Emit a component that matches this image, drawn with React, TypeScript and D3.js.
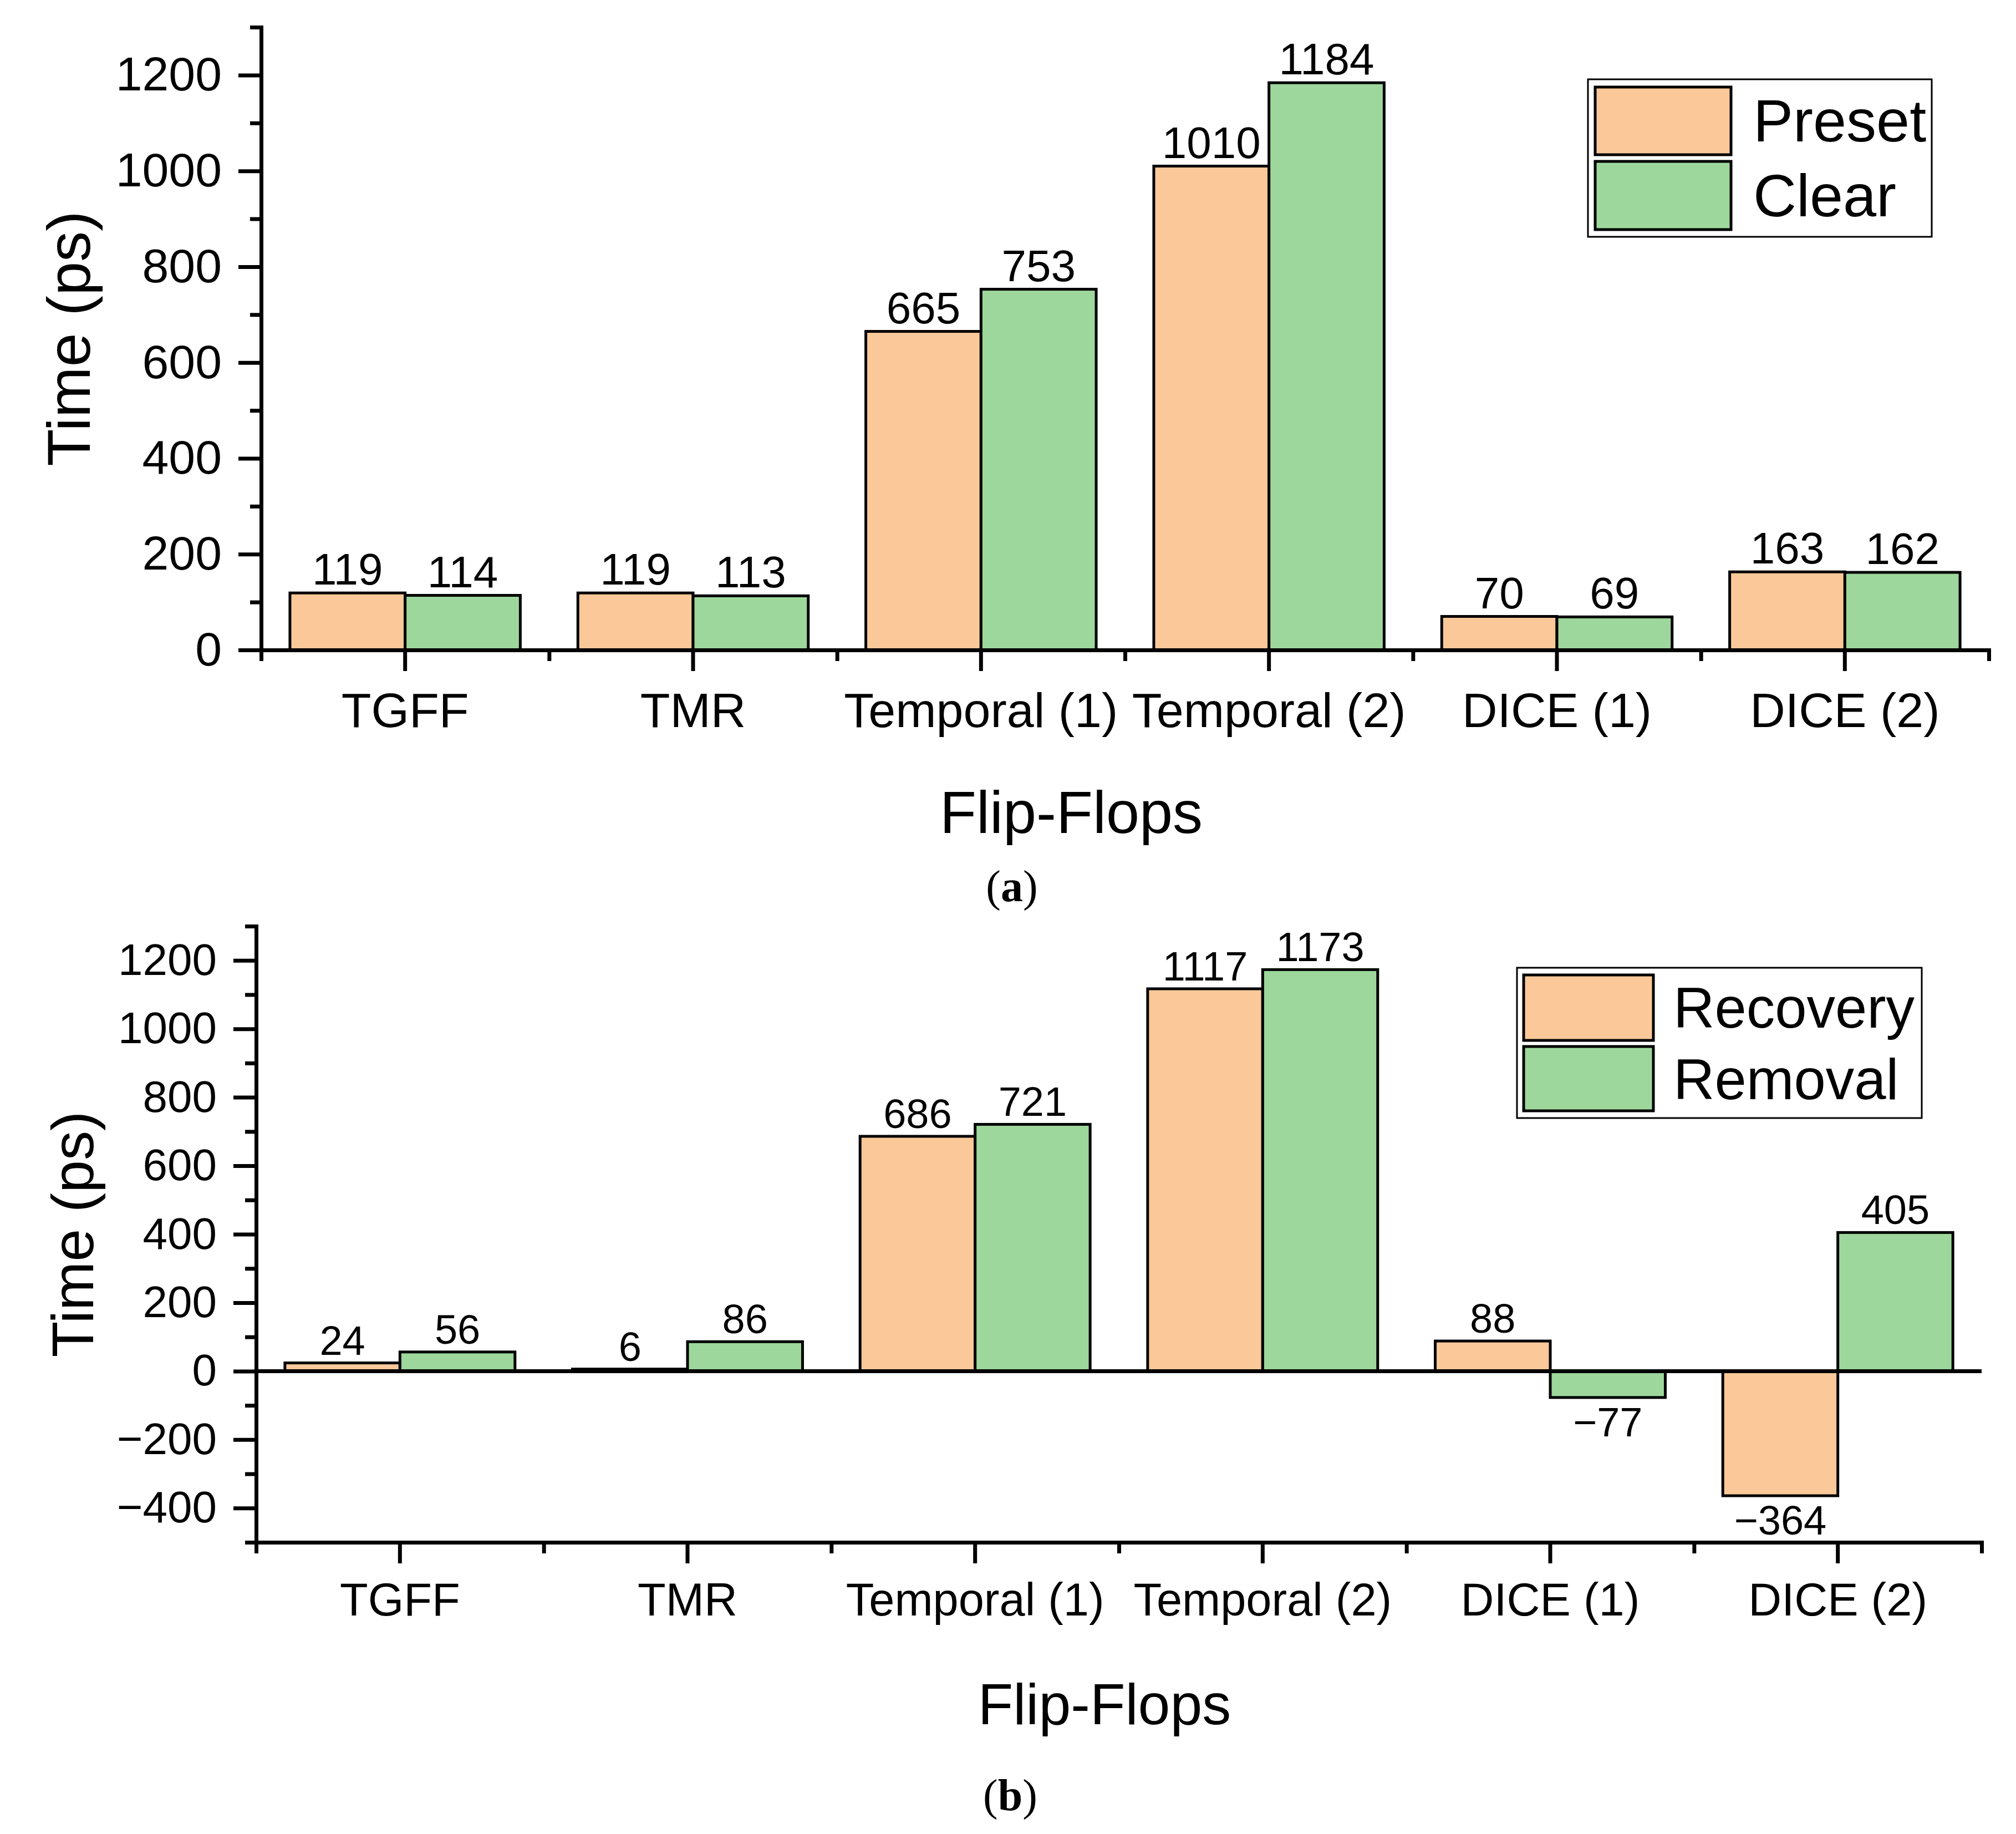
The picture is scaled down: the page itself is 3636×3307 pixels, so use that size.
import React, { useRef, useEffect } from 'react';
import * as d3 from 'd3';

const categories = ['TGFF', 'TMR', 'Temporal (1)', 'Temporal (2)', 'DICE (1)', 'DICE (2)'];

const seriesA = ['Preset', 'Clear'];
const presetValues = [119, 119, 665, 1010, 70, 163];
const clearValues = [114, 113, 753, 1184, 69, 162];

const seriesB = ['Recovery', 'Removal'];
const recoveryValues = [24, 6, 686, 1117, 88, -364];
const removalValues = [56, 86, 721, 1173, -77, 405];

const yTicksA = [0, 200, 400, 600, 800, 1000, 1200];
const yMinorA = [100, 300, 500, 700, 900, 1100, 1300];
const yTicksB = [-400, -200, 0, 200, 400, 600, 800, 1000, 1200];
const yMinorB = [-500, -300, -100, 100, 300, 500, 700, 900, 1100, 1300];

const colors = ['#FBC999', '#9DD79C'];
const FONT = '"Liberation Sans", Arial, sans-serif';

interface Panel {
	series: string[];
	values: number[][];
	yDomain: [number, number];
	yTicks: number[];
	yMinor: number[];
	x0: number; x1: number; yTop: number; yBottom: number;
	tickFont: number; xTickFont: number; labelFont: number;
	xLabelBase: number;
	yTitleX: number; yTitleFont: number;
	xTitleX: number; xTitleY: number; xTitleFont: number;
	caption: string; capX: number; capY: number;
	legend: { x: number; y: number; w: number; h: number; sx: number; sw: number; sh: number[]; sy: number[]; tx: number; ty: number[]; font: number };
}

const panels: Panel[] = [
	{
		series: seriesA, values: [presetValues, clearValues], yDomain: [0, 1300],
		yTicks: yTicksA, yMinor: yMinorA,
		x0: 471, x1: 3587, yTop: 49, yBottom: 1172,
		tickFont: 86, xTickFont: 88, labelFont: 80, xLabelBase: 1311,
		yTitleX: 162, yTitleFont: 110,
		xTitleX: 1932, xTitleY: 1502, xTitleFont: 108,
		caption: 'a', capX: 1825, capY: 1625,
		legend: { x: 2864, y: 143, w: 620, h: 284, sx: 2877, sw: 245, sh: [122, 123], sy: [157, 291], tx: 3162, ty: [255, 390], font: 108 },
	},
	{
		series: seriesB, values: [recoveryValues, removalValues], yDomain: [-500, 1300],
		yTicks: yTicksB, yMinor: yMinorB,
		x0: 462, x1: 3574, yTop: 1670, yBottom: 2781,
		tickFont: 80, xTickFont: 83, labelFont: 74, xLabelBase: 2913,
		yTitleX: 168, yTitleFont: 106,
		xTitleX: 1992, xTitleY: 3109, xTitleFont: 104,
		caption: 'b', capX: 1822, capY: 3264,
		legend: { x: 2736, y: 1745, w: 730, h: 271, sx: 2748, sw: 234, sh: [118, 116], sy: [1758, 1887], tx: 3018, ty: [1853, 1982], font: 103 },
	},
];

const fmt = (v: number) => `${v}`.replace('-', '\u2212');

const App: React.FC = () => {
	const svgRef = useRef<SVGSVGElement | null>(null);

	useEffect(() => {
		if (!svgRef.current) return;
		const svg = d3.select(svgRef.current);
		svg.selectAll('*').remove();
		svg.append('rect').attr('width', 3636).attr('height', 3307).attr('fill', '#fff');

		panels.forEach(p => {
			const g = svg.append('g');
			const x = d3.scaleBand<string>().domain(categories).range([p.x0, p.x1]).paddingInner(0.2).paddingOuter(0.1);
			const xs = d3.scaleBand<string>().domain(p.series).range([0, x.bandwidth()]);
			const y = d3.scaleLinear().domain(p.yDomain).range([p.yBottom, p.yTop]);
			const bound = d3.scaleLinear().domain([0, categories.length]).range([p.x0, p.x1]);

			// bars and value labels
			p.series.forEach((s, si) => {
				g.append('g').selectAll('rect')
					.data(p.values[si])
					.join('rect')
					.attr('x', (_, i) => (x(categories[i]) as number) + (xs(s) as number))
					.attr('y', d => y(Math.max(0, d)))
					.attr('width', xs.bandwidth())
					.attr('height', d => Math.abs(y(d) - y(0)))
					.attr('fill', colors[si])
					.attr('stroke', '#000')
					.attr('stroke-width', 5);

				g.append('g').selectAll('text')
					.data(p.values[si])
					.join('text')
					.attr('x', (_, i) => (x(categories[i]) as number) + (xs(s) as number) + xs.bandwidth() / 2)
					.attr('y', d => d >= 0 ? y(d) - 15 : y(d) + 17 + p.labelFont * 0.716)
					.attr('text-anchor', 'middle')
					.attr('font-family', FONT)
					.attr('font-size', p.labelFont)
					.text(d => fmt(d));
			});

			// zero line
			if (p.yDomain[0] < 0) {
				g.append('line')
					.attr('x1', p.x0).attr('x2', p.x1)
					.attr('y1', y(0)).attr('y2', y(0))
					.attr('stroke', '#000').attr('stroke-width', 7);
			}

			// y axis
			g.append('g')
				.attr('transform', `translate(${p.x0},0)`)
				.call(d3.axisLeft(y).tickValues(p.yMinor).tickFormat(() => '').tickSize(20).tickSizeOuter(0))
				.call(a => a.select('.domain').remove())
				.call(a => a.selectAll('line').attr('stroke-width', 7));
			g.append('g')
				.attr('transform', `translate(${p.x0},0)`)
				.call(d3.axisLeft(y).tickValues(p.yTicks).tickFormat(d => fmt(d as number)).tickSize(41).tickPadding(30).tickSizeOuter(0))
				.call(a => a.selectAll('line').attr('stroke-width', 7))
				.call(a => a.select('.domain').attr('stroke-width', 7).attr('stroke-linecap', 'square'))
				.call(a => a.selectAll('text').attr('font-family', FONT).attr('font-size', p.tickFont).attr('fill', '#000'));

			// x axis
			g.append('g')
				.attr('transform', `translate(0,${p.yBottom})`)
				.call(d3.axisBottom(bound).tickValues(d3.range(categories.length + 1)).tickFormat(() => '').tickSize(20).tickSizeOuter(0))
				.call(a => a.select('.domain').remove())
				.call(a => a.selectAll('line').attr('stroke-width', 7));
			const xPad = p.xLabelBase - p.yBottom - 38 - 0.71 * p.xTickFont;
			g.append('g')
				.attr('transform', `translate(0,${p.yBottom})`)
				.call(d3.axisBottom(x).tickSize(38).tickPadding(xPad).tickSizeOuter(0))
				.call(a => a.selectAll('line').attr('stroke-width', 7))
				.call(a => a.select('.domain').attr('stroke-width', 7).attr('stroke-linecap', 'square'))
				.call(a => a.selectAll('text').attr('font-family', FONT).attr('font-size', p.xTickFont).attr('fill', '#000'));

			// axis titles
			g.append('text')
				.attr('transform', `translate(${p.yTitleX},${(p.yTop + p.yBottom) / 2}) rotate(-90)`)
				.attr('text-anchor', 'middle')
				.attr('font-family', FONT)
				.attr('font-size', p.yTitleFont)
				.text('Time (ps)');
			g.append('text')
				.attr('x', p.xTitleX).attr('y', p.xTitleY)
				.attr('text-anchor', 'middle')
				.attr('font-family', FONT)
				.attr('font-size', p.xTitleFont)
				.text('Flip-Flops');

			// caption
			const cap = g.append('text')
				.attr('x', p.capX).attr('y', p.capY)
				.attr('text-anchor', 'middle')
				.attr('font-family', '"Liberation Serif", "Times New Roman", serif')
				.attr('font-size', 80);
			cap.append('tspan').text('(');
			cap.append('tspan').attr('font-weight', 'bold').text(p.caption);
			cap.append('tspan').text(')');

			// legend
			const L = p.legend;
			g.append('rect')
				.attr('x', L.x).attr('y', L.y).attr('width', L.w).attr('height', L.h)
				.attr('fill', '#fff').attr('stroke', '#000').attr('stroke-width', 3);
			p.series.forEach((s, si) => {
				g.append('rect')
					.attr('x', L.sx).attr('y', L.sy[si]).attr('width', L.sw).attr('height', L.sh[si])
					.attr('fill', colors[si]).attr('stroke', '#000').attr('stroke-width', 5);
				g.append('text')
					.attr('x', L.tx).attr('y', L.ty[si])
					.attr('font-family', FONT)
					.attr('font-size', L.font)
					.text(s);
			});
		});

		return () => { svg.selectAll('*').remove(); };
	}, []);

	return (
		<svg ref={svgRef} width={3636} height={3307} viewBox="0 0 3636 3307"
			style={{ position: 'absolute', left: 0, top: 0, display: 'block' }} />
	);
};

export default App;
